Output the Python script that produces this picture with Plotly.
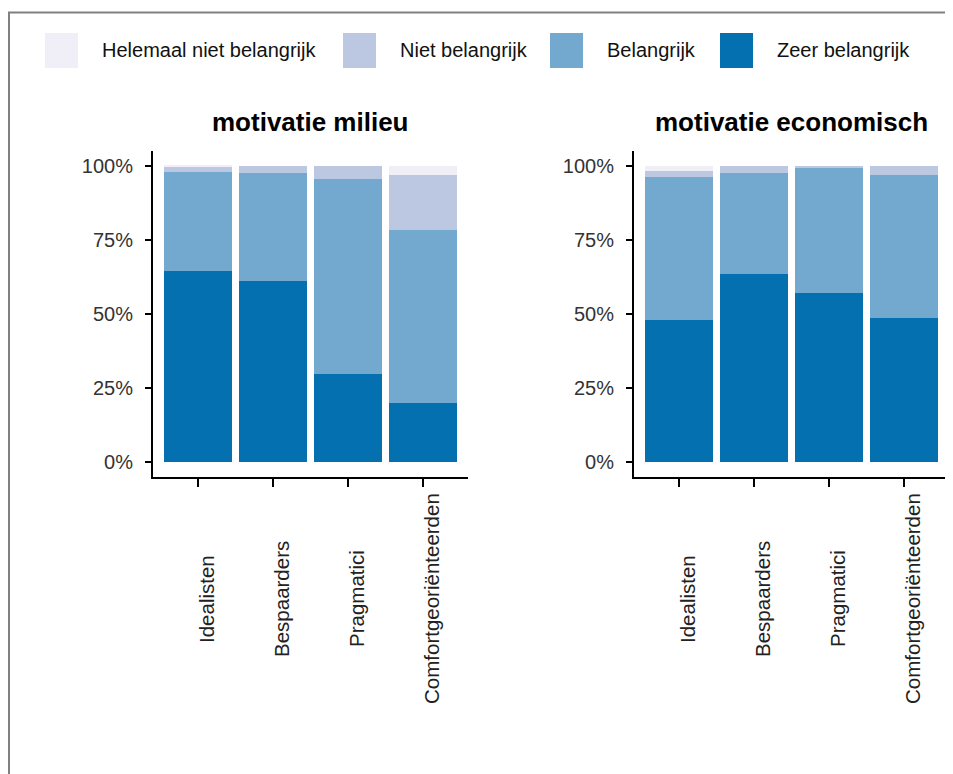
import plotly.graph_objects as go

# ---------------- data ----------------
categories = ["Idealisten", "Bespaarders", "Pragmatici", "Comfortgeoriënteerden"]
series_names = ["Helemaal niet belangrijk", "Niet belangrijk", "Belangrijk", "Zeer belangrijk"]
series_colors = ["#F0EEF6", "#BCC8E1", "#74A9CF", "#0570B0"]
panel_titles = ["motivatie milieu", "motivatie economisch"]

# percentages per category (order of categories)
milieu_zeer = [64.6, 61.3, 29.7, 19.8]
milieu_belangrijk = [33.5, 36.2, 65.8, 58.6]
milieu_niet = [1.5, 2.5, 4.5, 18.6]
milieu_helemaal = [0.4, 0.0, 0.0, 3.0]

econ_zeer = [48.0, 63.5, 57.2, 48.5]
econ_belangrijk = [48.2, 34.0, 42.2, 48.5]
econ_niet = [2.0, 2.5, 0.6, 3.0]
econ_helemaal = [1.8, 0.0, 0.0, 0.0]

y_tickvals = [0, 25, 50, 75, 100]
y_ticktext = ["0%", "25%", "50%", "75%", "100%"]

# ---------------- figure ----------------
OFF = 8  # page body margin
W, H = 953 - OFF, 774 - OFF
FONT = "Liberation Sans, Arial, sans-serif"

def px_x(p):
    return (p - OFF) / W

def px_y(p):
    return 1 - (p - OFF) / H

fig = go.Figure()

panels = [
    dict(xaxis="x", yaxis="y",
         data=[milieu_zeer, milieu_belangrijk, milieu_niet, milieu_helemaal]),
    dict(xaxis="x2", yaxis="y2",
         data=[econ_zeer, econ_belangrijk, econ_niet, econ_helemaal]),
]
# stacking order bottom -> top: Zeer, Belangrijk, Niet, Helemaal
stack_idx = [3, 2, 1, 0]
xidx = list(range(len(categories)))

for p in panels:
    for vals, si in zip(p["data"], stack_idx):
        fig.add_trace(go.Bar(
            x=xidx, y=vals, name=series_names[si],
            marker=dict(color=series_colors[si], line=dict(width=0)),
            width=0.9, xaxis=p["xaxis"], yaxis=p["yaxis"],
            showlegend=False, hoverinfo="skip",
        ))

y_dom = [px_y(476.8), px_y(151.2)]
x_doms = [[px_x(153), px_x(468)], [px_x(634), px_x(949)]]

axis_common_x = dict(
    range=[-0.6, 3.6], showgrid=False, zeroline=False,
    showline=True, linecolor="black", linewidth=2,
    ticks="outside", ticklen=8, tickwidth=2, tickcolor="black",
    tickvals=xidx, showticklabels=False, fixedrange=True,
)
axis_common_y = dict(
    range=[-5, 105], showgrid=False, zeroline=False,
    showline=True, linecolor="black", linewidth=2,
    ticks="outside", ticklen=6, tickwidth=2, tickcolor="black",
    tickvals=y_tickvals, ticktext=y_ticktext,
    tickfont=dict(family=FONT, size=20, color="#333333"),
    ticklabelstandoff=8, domain=y_dom, fixedrange=True,
)

fig.update_layout(
    width=W, height=H,
    margin=dict(l=0, r=0, t=0, b=0),
    paper_bgcolor="white", plot_bgcolor="white",
    barmode="stack", showlegend=False,
    xaxis=dict(domain=x_doms[0], anchor="y", **axis_common_x),
    yaxis=dict(anchor="x", **axis_common_y),
    xaxis2=dict(domain=x_doms[1], anchor="y2", **axis_common_x),
    yaxis2=dict(anchor="x2", **axis_common_y),
)

annotations = []
# panel titles
for dom, t in zip(x_doms, panel_titles):
    annotations.append(dict(
        text=f"<b>{t}</b>", x=(dom[0] + dom[1]) / 2, y=px_y(122),
        xref="paper", yref="paper", xanchor="center", yanchor="middle",
        showarrow=False, font=dict(family=FONT, size=26, color="black"),
    ))
# rotated category labels
for xa in ["x", "x2"]:
    for i, c in enumerate(categories):
        annotations.append(dict(
            text=c, x=i, y=px_y(599), xref=xa, yref="paper",
            xanchor="center", yanchor="middle", textangle=-90, xshift=8,
            showarrow=False, font=dict(family=FONT, size=20.5, color="#222222"),
        ))

# legend (keys + labels)
legend_key_x = [45, 343, 550, 720]
key_w, key_top, key_bot, text_gap = 33, 33, 68, 22
shapes = []
for kx, name, col in zip(legend_key_x, series_names, series_colors):
    shapes.append(dict(
        type="rect", xref="paper", yref="paper",
        x0=px_x(kx), x1=px_x(kx + key_w), y0=px_y(key_bot), y1=px_y(key_top),
        fillcolor=col, line=dict(width=0), layer="above",
    ))
    annotations.append(dict(
        text=name, x=px_x(kx + key_w + text_gap), y=px_y(50.5),
        xref="paper", yref="paper", xanchor="left", yanchor="middle",
        showarrow=False, font=dict(family=FONT, size=20, color="#111111"),
    ))

# frame lines (top and left)
shapes.append(dict(type="line", xref="paper", yref="paper",
                   x0=0, x1=1, y0=px_y(12.5), y1=px_y(12.5),
                   line=dict(color="#808080", width=2)))
shapes.append(dict(type="line", xref="paper", yref="paper",
                   x0=px_x(9), x1=px_x(9), y0=0, y1=px_y(12.5),
                   line=dict(color="#808080", width=2)))

fig.update_layout(annotations=annotations, shapes=shapes)

fig.write_html("out.html")
